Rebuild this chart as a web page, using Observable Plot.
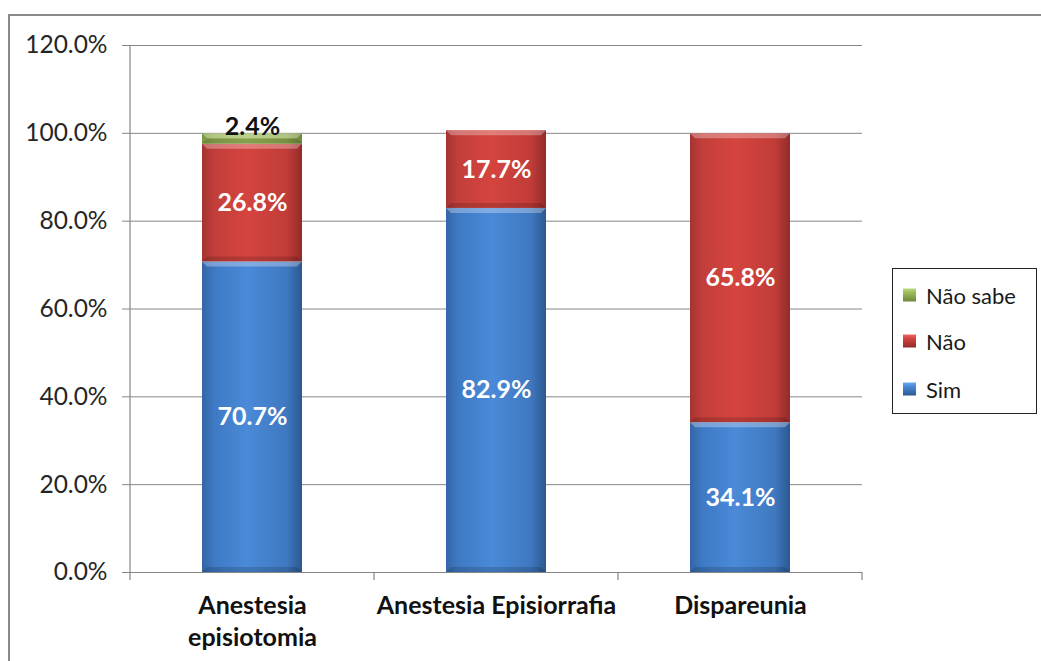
<!DOCTYPE html>
<html><head><meta charset="utf-8">
<script src="https://cdn.jsdelivr.net/npm/d3@7"></script>
<script src="https://cdn.jsdelivr.net/npm/@observablehq/plot@0.6"></script>
<style>
html,body{margin:0;padding:0;background:#fff;width:1041px;height:661px;overflow:hidden;font-family:Lato,sans-serif}
#frame{position:absolute;left:8px;top:14px;width:1040px;height:660px;border-left:2px solid #8a8a8a;border-top:2px solid #8a8a8a;box-sizing:border-box}
#chart{position:absolute;left:0;top:0}
#legend{position:absolute;left:892px;top:268px;width:145px;height:146px;border:1px solid #222;box-sizing:border-box;background:#fff}
.item{position:absolute;left:10px;display:flex;align-items:center;font-size:22px;color:#1a1a1a;transform:translateY(-50%);white-space:nowrap}
.sw{width:13px;height:13px;margin-right:10px}
</style></head>
<body>
<div id="frame"></div>
<div id="chart"></div>
<div id="legend"></div>
<script>
const categories = ["Anestesia episiotomia", "Anestesia Episiorrafia", "Dispareunia"];
const categoryLabels = ["Anestesia\nepisiotomia", "Anestesia Episiorrafia", "Dispareunia"];
const series = ["Sim", "Não", "Não sabe"];
const simValues = [70.7, 82.9, 34.1];
const naoValues = [26.8, 17.7, 65.8];
const naoSabeValues = [2.4, null, null];
const yTicks = [0, 20, 40, 60, 80, 100, 120];
const legendOrder = ["Não sabe", "Não", "Sim"];

const seriesValues = [simValues, naoValues, naoSabeValues];
const rows = [];
categories.forEach((c, i) => series.forEach((s, j) => {
  const v = seriesValues[j][i];
  if (v != null) rows.push({category: c, series: s, value: v});
}));
const fmt = v => v.toFixed(1) + "%";
const gradIds = {"Sim": "gSim", "Não": "gNao", "Não sabe": "gNS"};
const grads = {
  gSim: [["0%", "#3565a5"], ["12%", "#3e79c4"], ["45%", "#4a8ad8"], ["85%", "#3f78c0"], ["100%", "#2b5890"]],
  gNao: [["0%", "#a53431"], ["12%", "#c23e3a"], ["45%", "#d5443f"], ["85%", "#c13c38"], ["100%", "#922b29"]],
  gNS: [["0%", "#7c9743"], ["12%", "#8fae50"], ["45%", "#9dbd5b"], ["85%", "#8ca94d"], ["100%", "#6d873a"]]
};

const plot = Plot.plot({
  width: 1041, height: 661,
  marginTop: 45, marginBottom: 89, marginLeft: 130, marginRight: 179,
  style: {fontFamily: "Lato, sans-serif", fontSize: "24.5px", color: "#262626", background: "transparent", overflow: "visible"},
  x: {domain: categories, paddingInner: 0.59, paddingOuter: 0.295, axis: null},
  y: {domain: [0, 120], ticks: yTicks, tickFormat: d => d.toFixed(1) + "%", tickSize: 0, tickPadding: 23, label: null},
  color: {domain: series, range: series.map(s => `url(#${gradIds[s]})`)},
  marks: [
    Plot.ruleY(yTicks, {stroke: "#868686", insetLeft: -8}),
    Plot.barY(rows, Plot.stackY({x: "category", y: "value", fill: "series"})),
    Plot.text(rows, Plot.stackY({x: "category", y: "value", text: d => d.series !== "Não sabe" ? fmt(d.value) : null, fill: "white", fontWeight: "bold", fontSize: 25})),
    Plot.text(rows, Plot.stackY2({x: "category", y: "value", text: d => d.series === "Não sabe" ? fmt(d.value) : null, fill: "#111", fontWeight: "bold", fontSize: 25, dy: -7})),
    Plot.text(categories, {x: d => d, y: 0, text: (d, i) => categoryLabels[i], lineAnchor: "top", dy: 19, lineHeight: 1.28, fontWeight: "bold", fontSize: 25, fill: "#111"})
  ]
});
document.getElementById("chart").appendChild(plot);

const svg = d3.select(plot);
const defs = svg.insert("defs", ":first-child");
Object.entries(grads).forEach(([id, stops]) => {
  const g = defs.append("linearGradient").attr("id", id).attr("x1", 0).attr("x2", 1).attr("y1", 0).attr("y2", 0);
  stops.forEach(([o, c]) => g.append("stop").attr("offset", o).attr("stop-color", c));
});

// bevel highlights on each bar segment, derived from the rendered rects
const barGroup = svg.select('g[aria-label="bar"]');
const bevel = d3.select(barGroup.node().parentNode).insert("g", function() { return barGroup.node().nextSibling; });
barGroup.selectAll("rect").each(function() {
  const r = d3.select(this);
  const x = +r.attr("x"), y = +r.attr("y"), w = +r.attr("width"), h = +r.attr("height");
  const b = Math.min(5, h / 2);
  bevel.append("polygon").attr("points", `${x},${y} ${x+w},${y} ${x+w-b},${y+b} ${x+b},${y+b}`).attr("fill", "white").attr("fill-opacity", 0.3);
  bevel.append("polygon").attr("points", `${x},${y+h} ${x+w},${y+h} ${x+w-b},${y+h-b} ${x+b},${y+h-b}`).attr("fill", "black").attr("fill-opacity", 0.15);
});

// axis lines and category ticks from scales
const xs = plot.scale("x"), ys = plot.scale("y");
const [x0, x1] = xs.range, [yb, yt] = ys.range;
const ax = svg.append("g").attr("stroke", "#868686").attr("stroke-width", 1.2);
ax.append("line").attr("x1", x0).attr("x2", x0).attr("y1", yt).attr("y2", yb + 8);
for (let i = 1; i <= categories.length; i++) {
  const xx = x0 + (x1 - x0) * i / categories.length;
  ax.append("line").attr("x1", xx).attr("x2", xx).attr("y1", yb).attr("y2", yb + 8);
}

// legend
const swatchCss = {
  "Sim": "linear-gradient(to bottom, #6aa8ee 0%, #4a8ad8 30%, #2b5890 100%)",
  "Não": "linear-gradient(to bottom, #ea6a66 0%, #d5443f 30%, #922b29 100%)",
  "Não sabe": "linear-gradient(to bottom, #bcd884 0%, #9dbd5b 30%, #6d873a 100%)"
};
const legendTops = [26, 72, 120];
const legend = d3.select("#legend");
legendOrder.forEach((s, i) => {
  const it = legend.append("div").attr("class", "item").style("top", legendTops[i] + "px");
  it.append("div").attr("class", "sw").style("background", swatchCss[s]);
  it.append("span").text(s);
});
</script>
</body></html>
